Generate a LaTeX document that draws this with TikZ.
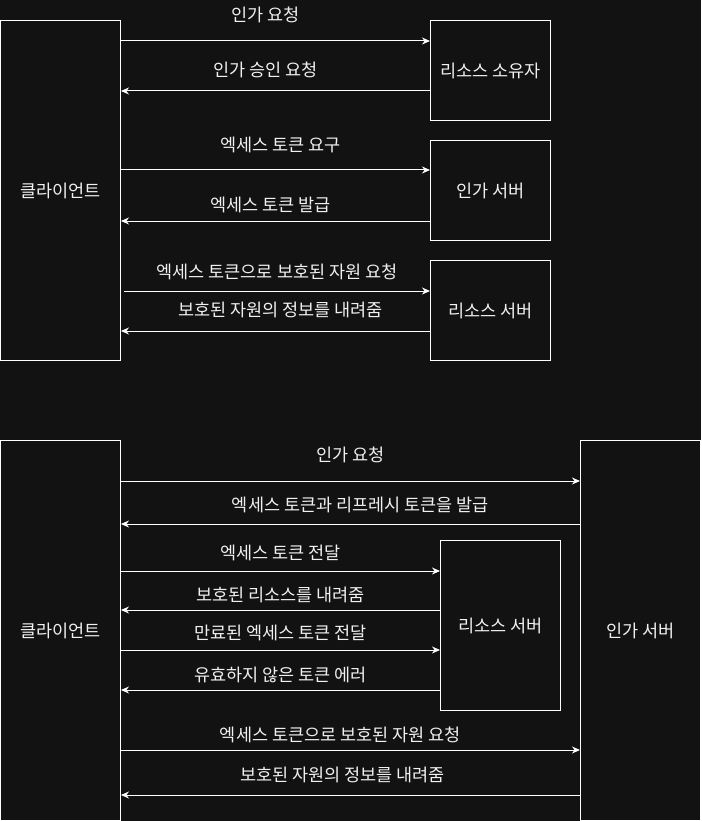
\documentclass[tikz,border=0pt]{standalone}
\usepackage{fontspec}
\setmainfont{Noto Sans CJK KR}
\usetikzlibrary{arrows.meta}
\definecolor{bgdark}{HTML}{121212}
\definecolor{txtlight}{HTML}{F0F0F0}

\begin{document}
\begin{tikzpicture}[x=1pt, y=-1pt,
	box/.style={draw=white, line width=1pt, fill=bgdark, text=txtlight, inner sep=0pt, anchor=north west, font=\fontsize{17.5}{20}\selectfont},
	msg/.style={draw=white, line width=1pt, -{Stealth[length=8pt, width=7pt]}},
	lbl/.style={text=txtlight, font=\fontsize{17.5}{20}\selectfont, inner sep=0pt}]
			%%%%% START %%%%%
			
			\fill[bgdark] (0, 0) rectangle (701, 821);
			\useasboundingbox (0, 0) rectangle (701, 821);
			
			\node[box, minimum width=120pt, minimum height=340pt] (client1) at (0, 20) {클라이언트};
			\node[box, minimum width=120pt, minimum height=100pt] (owner) at (430, 20) {리소스 소유자};
			\node[box, minimum width=120pt, minimum height=100pt] (authA) at (430, 140) {인가 서버};
			\node[box, minimum width=120pt, minimum height=100pt] (resA) at (430, 260) {리소스 서버};
			
			\draw[msg] ([yshift=-21pt]client1.north east) -- ([yshift=-21pt]owner.north west) node[lbl, midway, yshift=26pt, xshift=-10pt] {인가 요청};
			\draw[msg] ([yshift=-71pt]owner.north west) -- ([yshift=-71pt]client1.north east) node[lbl, midway, yshift=21pt, xshift=-10pt] {인가 승인 요청};
			
			\draw[msg] ([yshift=-150pt]client1.north east) -- ([yshift=-30pt]authA.north west) node[lbl, midway, yshift=25pt, xshift=5pt] {엑세스 토큰 요구};
			\draw[msg] ([yshift=-81pt]authA.north west) -- ([yshift=-201pt]client1.north east) node[lbl, midway, yshift=16pt, xshift=-5pt] {엑세스 토큰 발급};
			
			\draw[msg] ([yshift=-271pt, xshift=3pt]client1.north east) -- ([yshift=-31pt]resA.north west) node[lbl, midway, yshift=19pt] {엑세스 토큰으로 보호된 자원 요청};
			\draw[msg] ([yshift=-71pt]resA.north west) -- ([yshift=-311pt]client1.north east) node[lbl, midway, yshift=21pt, xshift=5pt] {보호된 자원의 정보를 내려줌};
			
			\node[box, minimum width=120pt, minimum height=380pt] (client2) at (0, 440) {클라이언트};
			\node[box, minimum width=120pt, minimum height=380pt] (authB) at (580, 440) {인가 서버};
			\node[box, minimum width=120pt, minimum height=170pt] (resB) at (440, 540) {리소스 서버};
			
			\draw[msg] ([yshift=-41pt]client2.north east) -- ([yshift=-41pt]authB.north west) node[lbl, midway, yshift=26pt] {인가 요청};
			\draw[msg] ([yshift=-84pt]authB.north west) -- ([yshift=-84pt]client2.north east) node[lbl, midway, yshift=19pt, xshift=10pt] {엑세스 토큰과 리프레시 토큰을 발급};
			
			\draw[msg] ([yshift=-131pt]client2.north east) -- ([yshift=-31pt]resB.north west) node[lbl, midway, yshift=18pt] {엑세스 토큰 전달};
			\draw[msg] ([yshift=-70pt]resB.north west) -- ([yshift=-170pt]client2.north east) node[lbl, midway, yshift=15pt] {보호된 리소스를 내려줌};
			\draw[msg] ([yshift=-210pt]client2.north east) -- ([yshift=-110pt]resB.north west) node[lbl, midway, yshift=17pt] {만료된 엑세스 토큰 전달};
			\draw[msg] ([yshift=-150pt]resB.north west) -- ([yshift=-250pt]client2.north east) node[lbl, midway, yshift=15pt] {유효하지 않은 토큰 에러};
			
			\draw[msg] ([yshift=-310pt]client2.north east) -- ([yshift=-310pt]authB.north west) node[lbl, midway, yshift=15pt, xshift=-10pt] {엑세스 토큰으로 보호된 자원 요청};
			\draw[msg] ([yshift=-355pt]authB.north west) -- ([yshift=-355pt]client2.north east) node[lbl, midway, yshift=20pt, xshift=-8pt] {보호된 자원의 정보를 내려줌};
			
			%%%%% END %%%%%
\end{tikzpicture}
\end{document}
